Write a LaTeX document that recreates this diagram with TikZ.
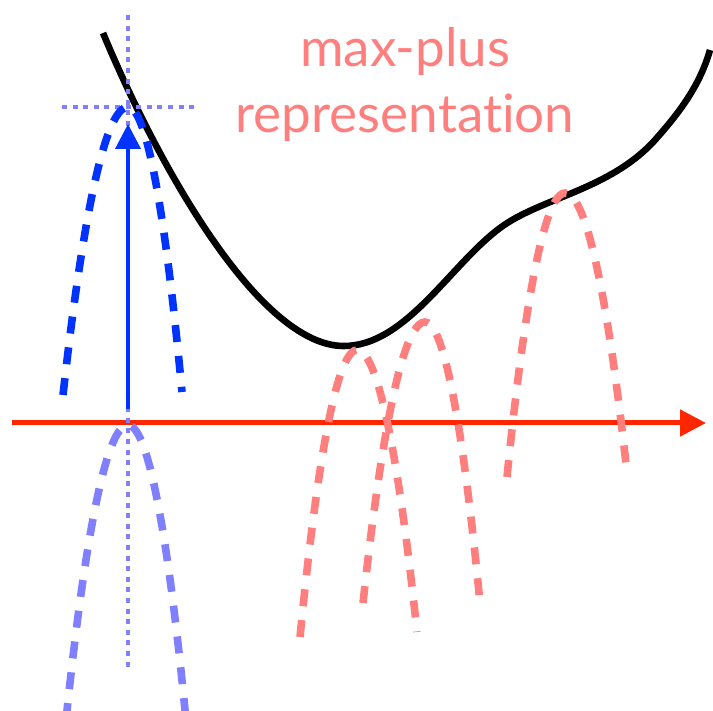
\documentclass[tikz,border=0pt]{standalone}
\usepackage{fontspec}
\setmainfont[Ligatures=NoCommon]{Lato}
\usepackage{xcolor}
\usepackage{tikz}
\usetikzlibrary{arrows.meta}

\definecolor{axisred}{RGB}{255,38,0}
\definecolor{repblue}{RGB}{0,51,255}
\definecolor{paleblue}{RGB}{128,128,255}
\definecolor{pinkish}{RGB}{255,127,127}

\begin{document}
\begin{tikzpicture}[x=0.5pt, y=-0.5pt,
        curve/.style={line width=3.3pt, black},
        bump/.style={line width=3.8pt, dash pattern=on 8.5pt off 7pt},
        guide/.style={line width=2pt, paleblue, dash pattern=on 2.5pt off 2.8pt}]
        \clip (0,0) rectangle (713,711);
        % function and its axis
        \draw[curve] (103,33) .. controls (160,170) and (260,345) .. (343,346)
            .. controls (405,347) and (450,265) .. (500,228)
            .. controls (540,198) and (610,190) .. (655,140)
            .. controls (680,112) and (700,85) .. (710,50);
        \draw[line width=2.5pt, axisred, -{Triangle[length=13pt, width=13pt]}] (12,423) -- (706,423);
        % guide lines
        \draw[guide] (128,15) -- (128,670);
        \draw[guide] (62,107) -- (197,107);
        % basis functions
        \draw[bump, repblue] (63,395) parabola bend (128,107) (182,392);
        \draw[bump, paleblue] (66,720) parabola bend (128,425) (186,720);
        \draw[line width=2pt, repblue, -{Triangle[length=12.5pt, width=12.5pt]}] (128,409) -- (128,124);
        \draw[bump, pinkish] (300,637) parabola bend (357,350) (417,632);
        \draw[bump, pinkish] (363,603) parabola bend (425,322) (480,603);
        \draw[bump, pinkish] (507,477) parabola bend (565,193) (627,473);
        % label
        \node[pinkish, anchor=base, font=\fontsize{26.5}{33}\selectfont] (maxplus) at (405,67) {max-plus};
        \node[pinkish, anchor=base, font=\fontsize{26.5}{33}\selectfont] (repr) at (405,133) {representation};
\end{tikzpicture}
\end{document}
